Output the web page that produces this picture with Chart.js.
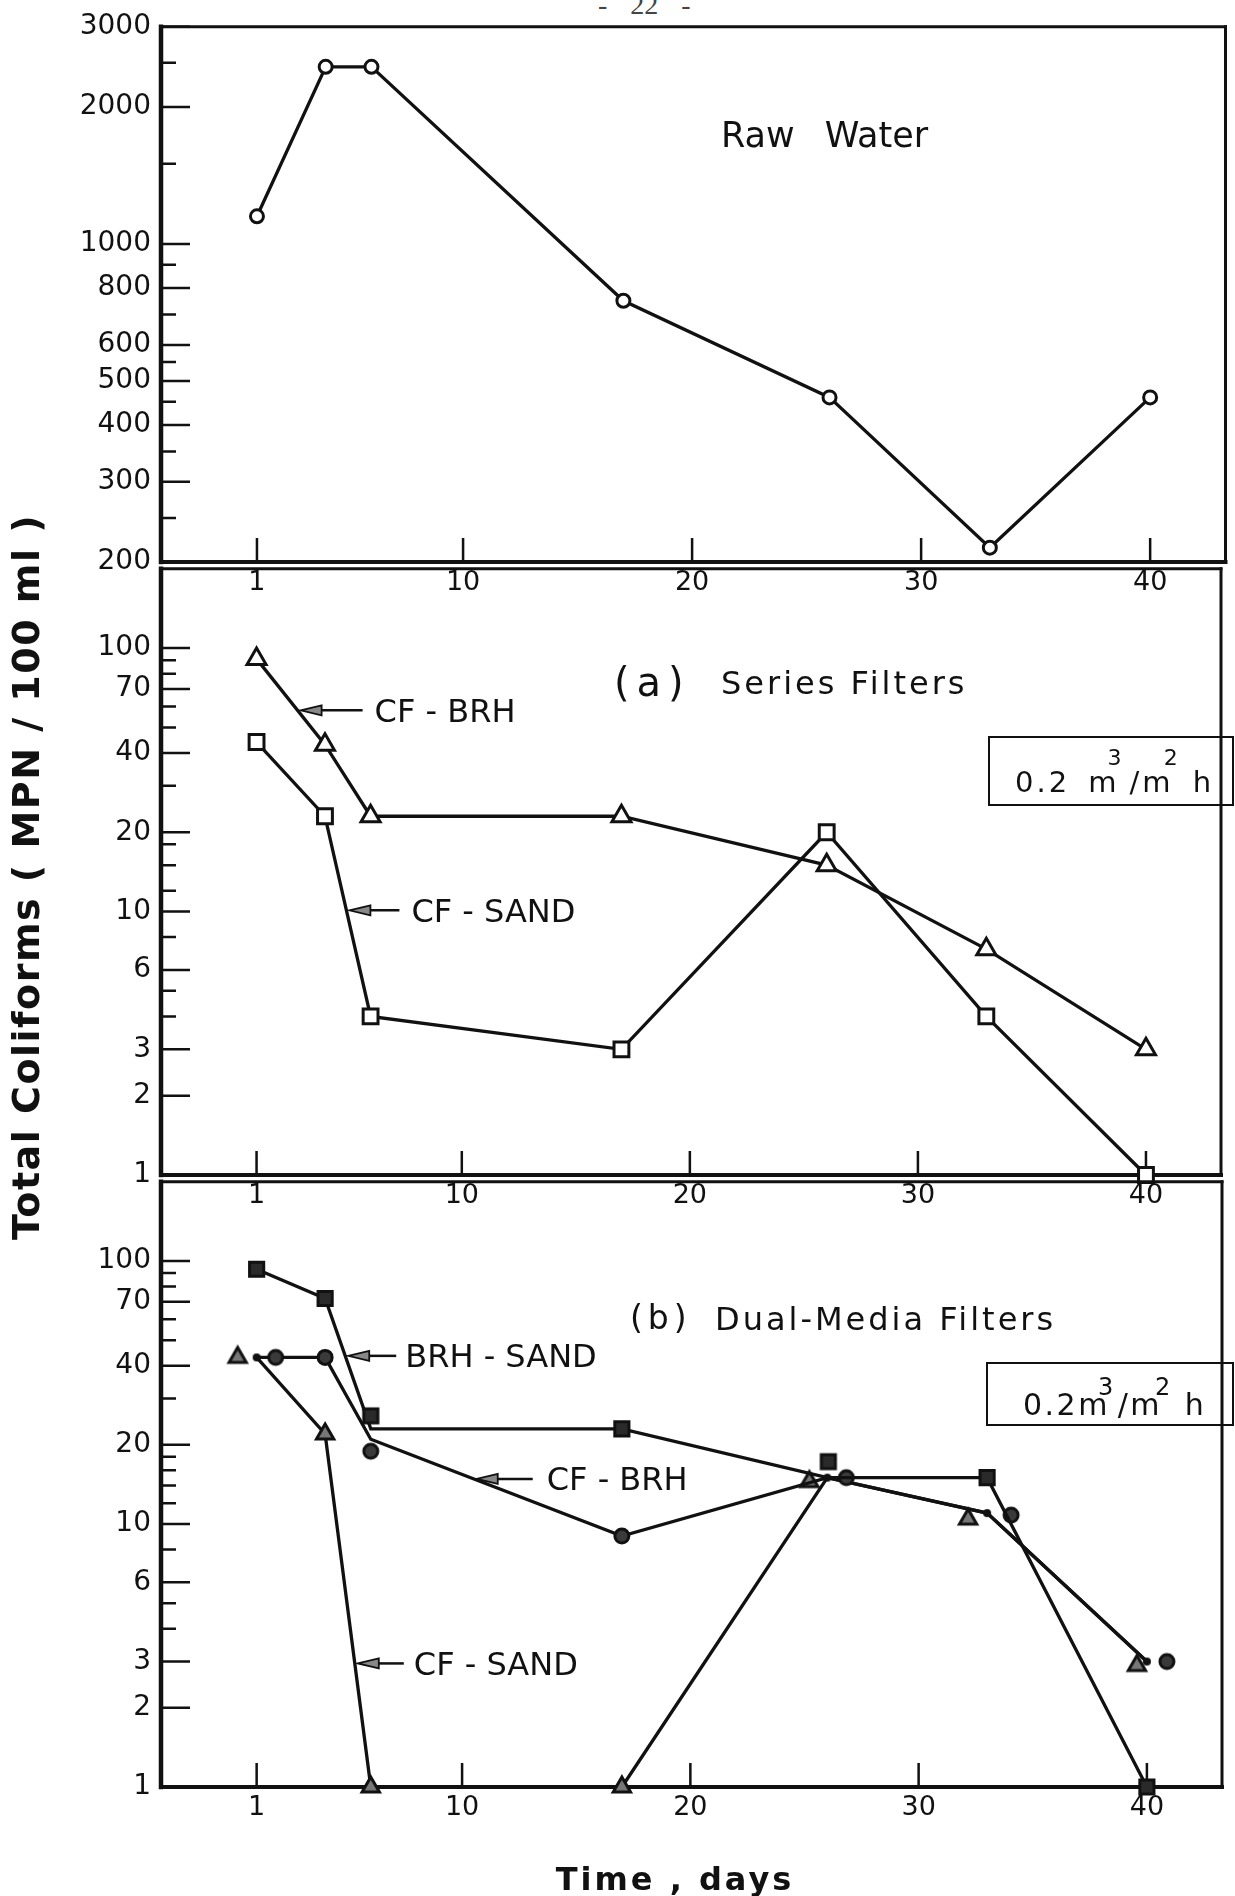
<!DOCTYPE html>
<html lang="en">
<head>
<meta charset="utf-8">
<title>Total coliforms</title>
<script src="https://cdn.jsdelivr.net/npm/chart.js@4.4.1/dist/chart.umd.min.js"></script>
<style>
  html, body { margin: 0; padding: 0; background: #fff; }
  #page { position: relative; width: 1235px; height: 1896px; overflow: hidden;
          font-family: "DejaVu Sans", sans-serif; color: #111; }
  .panel { position: absolute; left: 0; width: 1235px; }
  .txt { position: absolute; white-space: nowrap; line-height: 1; }
  .rate { position: absolute; border: 2.5px solid #111; box-sizing: border-box; }
  .txt sup { position: relative; vertical-align: baseline; line-height: 0; }
</style>
</head>
<body>
<div id="page">
  <div class="txt" style="left:598px; top:-11px; font:28px 'Liberation Serif', serif; color:#444; word-spacing:16px;">- 22 -</div>

  <div class="panel" style="top:0; height:602px;"><canvas id="rawChart"></canvas></div>
  <div class="panel" style="top:542px; height:673px;"><canvas id="seriesChart"></canvas></div>
  <div class="panel" style="top:1155px; height:741px;"><canvas id="dualChart"></canvas></div>

  <div class="txt" style="left:721px; top:118px; font-size:35px; word-spacing:19px;">Raw Water</div>

  <div class="txt" style="left:614px; top:662px; font-size:40px; letter-spacing:7px;">(a)</div>
  <div class="txt" style="left:721px; top:667px; font-size:32px; letter-spacing:3px;">Series Filters</div>
  <div class="rate" style="left:988px; top:736px; width:246px; height:70px;"></div>
  <div class="txt" style="left:1015px; top:768px; font-size:29px; letter-spacing:3px; word-spacing:6px;">0.2 m<sup style="font-size:22px; top:-27px; margin:0 5px 0 -12px;">3</sup>/m<sup style="font-size:22px; top:-27px; margin:0 12px 0 -10px;">2</sup>h</div>

  <div class="txt" style="left:630px; top:1301px; font-size:33px; letter-spacing:5px;">(b)</div>
  <div class="txt" style="left:715px; top:1303px; font-size:32px; letter-spacing:3px;">Dual-Media Filters</div>
  <div class="rate" style="left:986px; top:1362px; width:248px; height:64px;"></div>
  <div class="txt" style="left:1023px; top:1390px; font-size:30px; letter-spacing:2.5px;">0.2m<sup style="font-size:24px; top:-20px; margin:0 2px 0 -12px;">3</sup>/m<sup style="font-size:24px; top:-20px; margin:0 12px 0 -7px;">2</sup>h</div>

  <div class="txt" style="left:-374px; top:858px; width:800px; height:38px; text-align:center; font-size:38px; font-weight:bold; letter-spacing:1.5px; transform:rotate(-90deg);">Total Coliforms ( MPN / 100 ml )</div>
  <div class="txt" style="left:475px; top:1863px; width:400px; text-align:center; font-size:32px; font-weight:bold; letter-spacing:3px;">Time , days</div>
</div>

<script>
// sampling days
const days = [1, 4, 6, 17, 26, 33, 40];

// raw water, MPN/100 ml
const rawWater = [1150, 2450, 2450, 750, 460, 215, 460];

// (a) series filters
const seriesCfBrh = [91, 43, 23, 23, 15, 7.2, 3];
const seriesCfSand = [44, 23, 4, 3, 20, 4, 1];

// (b) dual-media filters
const dualBrhSand = [93, 72, 23, 23, 15, 15, 1];
const dualCfBrh = [43, 43, 21, 9, 15, 11, 3];
const dualCfSand = [43, 22, 1, 1, 15, 11, 3];

// axis ticks
const dayTicks = [1, 10, 20, 30, 40];
const rawTicks = [200, 300, 400, 500, 600, 800, 1000, 2000, 3000];
const rawMinorTicks = [250, 350, 450, 550, 700, 900, 1500, 2500];
const mpnTicks = [1, 2, 3, 6, 10, 20, 40, 70, 100];
const seriesMinorTicks = [4, 5, 8, 12, 15, 18, 30, 50, 60, 80, 90];
const dualMinorTicks = [4, 5, 8, 12, 14, 16, 18, 30, 50, 60, 80, 90];

const ink = '#111';
Chart.defaults.font.family = '"DejaVu Sans", sans-serif';
Chart.defaults.color = ink;

// where curves in (b) share a point the symbols are set off to the side (px)
const brhSandShift = { 2: [0, -13], 4: [1, -16] };
const cfBrhShift = { 0: [19, 0], 2: [0, 12], 4: [19, 0], 5: [24, 2], 6: [20, 0] };
const cfSandShift = { 0: [-19, 0], 4: [-18, 4], 5: [-19, 6], 6: [-10, 4] };

function edge(ctx, w, x1, y1, x2, y2) {
    ctx.lineWidth = w;
    ctx.beginPath();
    ctx.moveTo(x1, y1);
    ctx.lineTo(x2, y2);
    ctx.stroke();
}

function shapePath(ctx, shape, x, y, r) {
    ctx.beginPath();
    if (shape === 'circle') {
        ctx.arc(x, y, r, 0, Math.PI * 2);
    } else if (shape === 'rect') {
        const h = r * Math.SQRT1_2;
        ctx.rect(x - h, y - h, 2 * h, 2 * h);
    } else {
        for (let k = 0; k < 3; k++) {
            const ang = k * 2 * Math.PI / 3;
            ctx[k ? 'lineTo' : 'moveTo'](x + Math.sin(ang) * r, y - Math.cos(ang) * r);
        }
        ctx.closePath();
    }
}

// symbol drawn off the data point, with a dot left on the point itself
function shiftedSymbol(shape, r, fill, dx, dy, dot) {
    const half = Math.ceil(Math.max(Math.abs(dx), Math.abs(dy)) + r + 6);
    const c = document.createElement('canvas');
    c.width = c.height = half * 2;
    const g = c.getContext('2d');
    g.strokeStyle = ink;
    g.lineWidth = 3;
    g.fillStyle = fill;
    shapePath(g, shape, half + dx, half + dy, r);
    g.fill();
    g.stroke();
    if (dot) {
        g.fillStyle = ink;
        g.beginPath();
        g.arc(half, half, 4, 0, Math.PI * 2);
        g.fill();
    }
    return c;
}

function symbolStyle(shape, r, fill, shifts, dot) {
    const cache = {};
    Object.keys(shifts).forEach(i => {
        const [dx, dy] = shifts[i];
        cache[i] = shiftedSymbol(shape, r, fill, dx, dy, dot && dx !== 0);
    });
    return ctx => cache[ctx.dataIndex] || shape;
}

// frame, inward tick marks and the arrow labels
const panelDecor = {
    id: 'panelDecor',
    beforeDatasetsDraw(chart, args, opts) {
        const ctx = chart.ctx;
        const a = chart.chartArea;
        const xs = chart.scales.x, ys = chart.scales.y;
        ctx.save();
        ctx.strokeStyle = ink;
        ctx.lineWidth = 2.5;
        ctx.beginPath();
        opts.major.forEach(v => {
            const y = ys.getPixelForValue(v);
            ctx.moveTo(a.left, y); ctx.lineTo(a.left + 29, y);
        });
        opts.minor.forEach(v => {
            const y = ys.getPixelForValue(v);
            ctx.moveTo(a.left, y); ctx.lineTo(a.left + 15, y);
        });
        dayTicks.forEach(d => {
            const x = xs.getPixelForValue(d);
            ctx.moveTo(x, a.bottom); ctx.lineTo(x, a.bottom - 24);
        });
        ctx.stroke();
        ctx.lineCap = 'square';
        edge(ctx, 3, a.left, a.top, a.right, a.top);
        edge(ctx, 3, a.right, a.top, a.right, a.bottom);
        edge(ctx, 4, a.left, a.bottom, a.right, a.bottom);
        edge(ctx, 4.5, a.left, a.top, a.left, a.bottom);
        ctx.restore();
    },
    afterDatasetsDraw(chart, args, opts) {
        const ctx = chart.ctx;
        ctx.save();
        (opts.arrows || []).forEach(ar => {
            const pts = chart.getDatasetMeta(ar.series).data;
            const p0 = pts[ar.seg], p1 = pts[ar.seg + 1];
            const x = p0.x + (p1.x - p0.x) * ar.t;
            const y = p0.y + (p1.y - p0.y) * ar.t;
            ctx.strokeStyle = ink;
            edge(ctx, 2.5, x + 20, y, x + ar.len, y);
            ctx.beginPath();
            ctx.moveTo(x + 3, y);
            ctx.lineTo(x + 24, y - 5);
            ctx.lineTo(x + 24, y + 5);
            ctx.closePath();
            ctx.fillStyle = '#888';
            ctx.fill();
            ctx.lineWidth = 1.8;
            ctx.stroke();
            ctx.fillStyle = ink;
            ctx.font = '32px "DejaVu Sans"';
            ctx.textBaseline = 'alphabetic';
            ctx.fillText(ar.text, x + ar.len + ar.gap, y + 11.5);
        });
        ctx.restore();
    }
};

function lineSet(values, style, radius, fill) {
    return {
        data: values.map((v, i) => ({ x: days[i], y: v })),
        borderColor: ink,
        borderWidth: 3.3,
        tension: 0,
        pointStyle: style,
        pointRadius: radius,
        pointBackgroundColor: fill || '#fff',
        pointBorderColor: ink,
        pointBorderWidth: 3,
        clip: false
    };
}

function panelOptions(o) {
    return {
        responsive: true,
        maintainAspectRatio: false,
        animation: false,
        events: [],
        layout: { padding: { top: o.padTop, right: 3, left: 0, bottom: 0 } },
        plugins: {
            legend: { display: false },
            tooltip: { enabled: false },
            panelDecor: { major: o.major, minor: o.minor, arrows: o.arrows }
        },
        scales: {
            x: {
                type: 'linear',
                min: -3.19,
                max: 43.29,
                grid: { display: false, drawTicks: false },
                border: { display: false },
                afterBuildTicks: s => { s.ticks = dayTicks.map(v => ({ value: v })); },
                afterFit: s => { s.height = o.axisHeight; },
                ticks: { padding: 5, font: { size: 27 }, color: ink, autoSkip: false, maxRotation: 0,
                         callback: v => String(v) }
            },
            y: {
                type: 'logarithmic',
                min: o.min,
                max: o.max,
                grid: { display: false, drawTicks: false },
                border: { display: false },
                afterBuildTicks: s => { s.ticks = o.major.map(v => ({ value: v })); },
                afterFit: s => { s.width = 161; },
                ticks: { padding: 10, font: { size: 28 }, color: ink, autoSkip: false,
                         callback: v => String(v) }
            }
        }
    };
}

new Chart(document.getElementById('rawChart'), {
    type: 'line',
    data: { datasets: [lineSet(rawWater, 'circle', 6.5)] },
    options: panelOptions({ padTop: 22, axisHeight: 40, min: 200, max: 3000,
                            major: rawTicks, minor: rawMinorTicks }),
    plugins: [panelDecor]
});

new Chart(document.getElementById('seriesChart'), {
    type: 'line',
    data: { datasets: [lineSet(seriesCfBrh, 'triangle', 11), lineSet(seriesCfSand, 'rect', 10.5)] },
    options: panelOptions({
        padTop: 20, axisHeight: 40, min: 1, max: 200, major: mpnTicks, minor: seriesMinorTicks,
        arrows: [
            { series: 0, seg: 0, t: 0.6, len: 65, gap: 12, text: 'CF - BRH' },
            { series: 1, seg: 1, t: 0.47, len: 53, gap: 12, text: 'CF - SAND' }
        ]
    }),
    plugins: [panelDecor]
});

const dualSets = [
    lineSet(dualBrhSand, 'rect', 10, '#2a2a2a'),
    lineSet(dualCfBrh, 'circle', 7, '#3a3a3a'),
    lineSet(dualCfSand, 'triangle', 10, '#777')
];
dualSets[0].pointStyle = symbolStyle('rect', 10, '#2a2a2a', brhSandShift, false);
dualSets[1].pointStyle = symbolStyle('circle', 7, '#3a3a3a', cfBrhShift, false);
dualSets[2].pointStyle = symbolStyle('triangle', 10, '#777', cfSandShift, true);

new Chart(document.getElementById('dualChart'), {
    type: 'line',
    data: { datasets: dualSets },
    options: panelOptions({
        padTop: 20, axisHeight: 109, min: 1, max: 200, major: mpnTicks, minor: dualMinorTicks,
        arrows: [
            { series: 0, seg: 1, t: 0.44, len: 51, gap: 9, text: 'BRH - SAND' },
            { series: 1, seg: 2, t: 0.41, len: 59, gap: 14, text: 'CF - BRH' },
            { series: 2, seg: 1, t: 0.65, len: 49, gap: 10, text: 'CF - SAND' }
        ]
    }),
    plugins: [panelDecor]
});
</script>
</body>
</html>
